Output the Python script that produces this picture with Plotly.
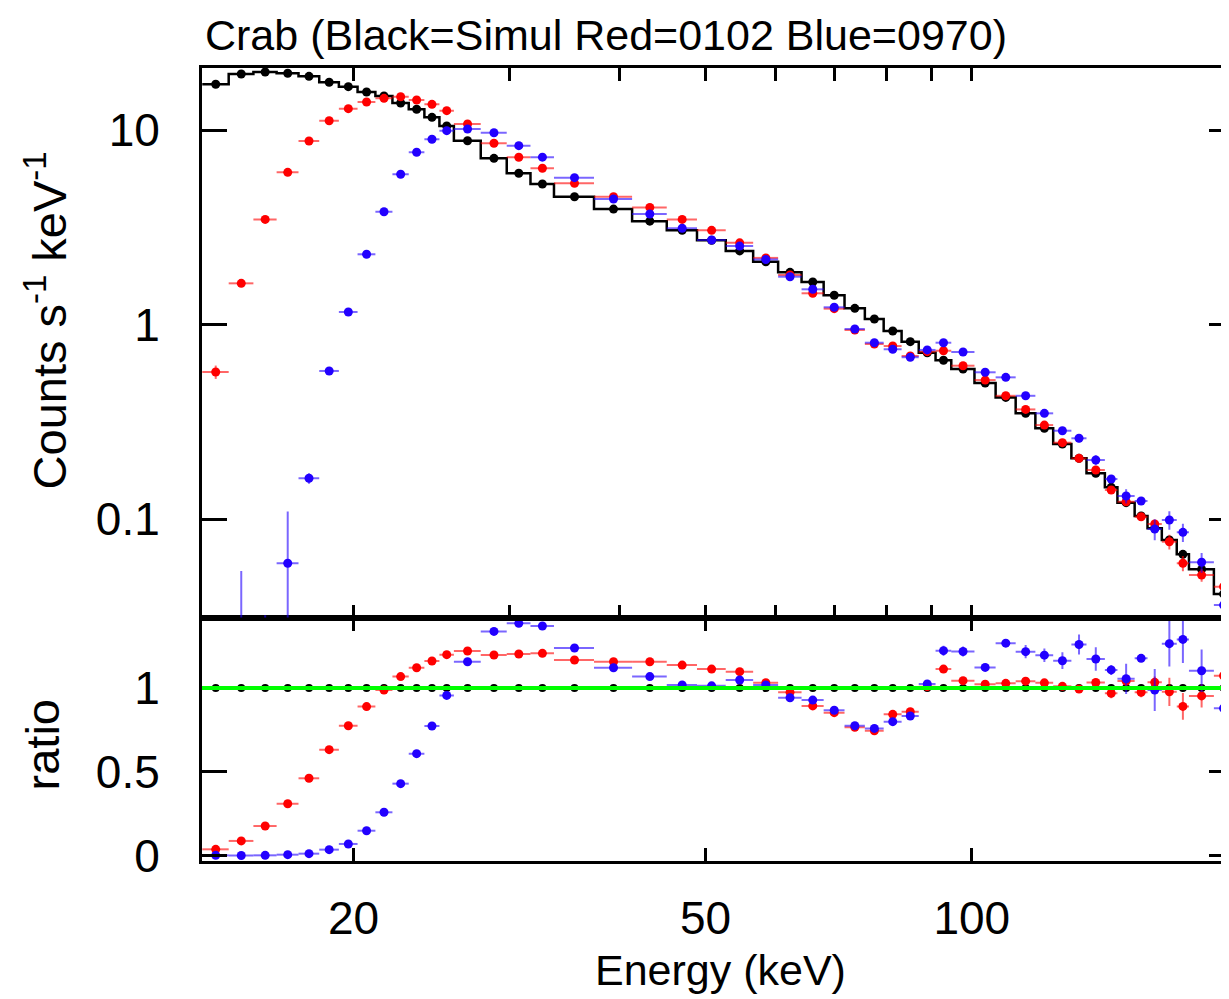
import numpy as np
import plotly.graph_objects as go

# ---------------- data ----------------
# energy bin edges (keV)
edges = [13.49, 14.45, 15.41, 16.37, 17.33, 18.29, 19.25, 20.21, 21.17, 22.13,
         23.09, 24.05, 25.01, 25.97, 27.85, 29.8, 31.7, 33.7, 37.4, 41.3,
         45.2, 48.9, 52.7, 56.6, 60.4, 64.2, 68.0, 71.8, 75.7, 79.5,
         83.3, 87.1, 91.0, 94.8, 100.7, 106.4, 112.1, 118.0, 123.6, 129.6,
         134.8, 141.4, 146.1, 152.8, 158.0, 164.0, 170.5, 176.0, 187.8, 197.4]

# counts s^-1 keV^-1
simul = [17.18, 19.41, 19.87, 19.57, 18.88, 17.59, 16.70, 15.68, 14.96, 13.77,
         12.78, 11.62, 10.49, 8.81, 7.15, 5.99, 5.28, 4.54, 3.92, 3.40,
         3.05, 2.71, 2.39, 2.10, 1.855, 1.654, 1.413, 1.211, 1.067, 0.926,
         0.816, 0.716, 0.655, 0.590, 0.500, 0.422, 0.3494, 0.2926, 0.2429, 0.2051,
         0.1718, 0.1455, 0.1213, 0.1036, 0.0896, 0.078, 0.0658, 0.0551, 0.0412]
obs0102 = [0.570, 1.628, 3.47, 6.06, 8.78, 11.16, 12.87, 13.93, 14.55, 14.83,
           14.27, 13.55, 12.57, 10.73, 8.55, 7.24, 6.36, 5.32, 4.54, 4.00,
           3.47, 3.05, 2.63, 2.20, 1.797, 1.447, 1.206, 0.937, 0.794, 0.775,
           0.689, 0.725, 0.733, 0.614, 0.518, 0.430, 0.366, 0.304, 0.2468, 0.2051,
           0.1786, 0.1410, 0.1227, 0.1027, 0.0942, 0.0764, 0.0592, 0.0515, 0.0449]
obs0102_err = [0.045, 0.03, 0.04, 0.05, 0.05, 0.05, 0.05, 0.05, 0.05, 0.05,
               0.05, 0.05, 0.05, 0.04, 0.04, 0.04, 0.04, 0.04, 0.04, 0.04,
               0.02, 0.02, 0.02, 0.02, 0.02, 0.02, 0.02, 0.02, 0.02, 0.02,
               0.005, 0.005, 0.005, 0.005, 0.005, 0.005, 0.005, 0.005, 0.005, 0.005,
               0.0034, 0.0044, 0.0036, 0.0031, 0.0031, 0.0066, 0.0053, 0.0039, 0.0041]
obs0970 = [0.01, 0.005, 0.005, 0.0592, 0.162, 0.577, 1.160, 2.296, 3.80, 5.92,
           7.68, 8.96, 9.92, 10.12, 9.68, 8.31, 7.25, 5.69, 4.42, 3.70,
           3.125, 2.72, 2.53, 2.16, 1.761, 1.517, 1.226, 0.948, 0.806, 0.746,
           0.679, 0.740, 0.806, 0.722, 0.568, 0.535, 0.430, 0.3494, 0.2844, 0.260,
           0.201, 0.1606, 0.1313, 0.1238, 0.0888, 0.0988, 0.0854, 0.0599, 0.0361]
obs0970_err = [0.01, 0.049, 0.027, 0.05, 0.01, 0.01, 0.02, 0.03, 0.04, 0.05,
               0.05, 0.05, 0.05, 0.05, 0.05, 0.04, 0.04, 0.04, 0.03, 0.03,
               0.02, 0.02, 0.02, 0.02, 0.02, 0.02, 0.01, 0.01, 0.01, 0.01,
               0.01, 0.01, 0.02, 0.018, 0.01, 0.004, 0.014, 0.012, 0.012, 0.012,
               0.012, 0.0044, 0.011, 0.002, 0.011, 0.0107, 0.0092, 0.007, 0.009]

# data / model ratios
ratio_simul = [1.0] * 49
ratio_0102 = [0.037, 0.087, 0.176, 0.309, 0.461, 0.632, 0.775, 0.889, 0.988, 1.068,
              1.121, 1.161, 1.199, 1.221, 1.197, 1.203, 1.207, 1.167, 1.157, 1.157,
              1.137, 1.113, 1.0975, 1.032, 0.974, 0.893, 0.853, 0.765, 0.745, 0.843,
              0.859, 1.008, 1.113, 1.044, 1.023, 1.028, 1.041, 1.031, 1.01, 0.994,
              1.033, 0.969, 1.042, 0.975, 1.034, 0.977, 0.89, 0.953, 1.073]
ratio_0102_err = [0.004] * 40 + [0.02, 0.03, 0.03, 0.03, 0.035, 0.085, 0.08, 0.07, 0.1]
ratio_0970 = [0.001, 0.0, 0.001, 0.005, 0.011, 0.035, 0.069, 0.148, 0.258, 0.429,
              0.608, 0.773, 0.956, 1.157, 1.338, 1.386, 1.37, 1.239, 1.121, 1.068,
              1.018, 1.013, 1.048, 1.018, 0.942, 0.928, 0.867, 0.775, 0.759, 0.799,
              0.833, 1.024, 1.223, 1.218, 1.123, 1.268, 1.217, 1.196, 1.163, 1.26,
              1.173, 1.108, 1.055, 1.177, 0.988, 1.265, 1.29, 1.103, 0.879]
ratio_0970_err = [0.004] * 32 + [0.03, 0.03, 0.02, 0.01, 0.04, 0.04, 0.05, 0.06,
                                 0.07, 0.03, 0.09, 0.02, 0.125, 0.137, 0.14, 0.127, 0.2]

# tick labels
x_tick_values = [20, 50, 100]
x_tick_labels = ["20", "50", "100"]
x_minor_values = [30, 40, 60, 70, 80, 90]
ratio_tick_values = [0, 0.5, 1]
ratio_tick_labels = ["0", "0.5", "1"]
ratio_minor_values = [0.1, 0.2, 0.3, 0.4, 0.6, 0.7, 0.8, 0.9, 1.1, 1.2, 1.3, 1.4]
counts_tick_values = [0.1, 1, 10]
counts_tick_labels = ["0.1", "1", "10"]
counts_minor_values = [0.04, 0.05, 0.06, 0.07, 0.08, 0.09, 0.2, 0.3, 0.4, 0.5, 0.6,
                       0.7, 0.8, 0.9, 2, 3, 4, 5, 6, 7, 8, 9, 20]

# ---------------- derived geometry ----------------
e = np.array(edges)
centers = (e[:-1] + e[1:]) / 2
halfw = (e[1:] - e[:-1]) / 2

# The page body has an 8px margin; figure coordinates = screen - 8.
OFF = 8
PLOT_L, PLOT_T, PLOT_B = 202, 68, 861          # screen pixels
PLOT_R = 1229 + OFF                            # plot area runs just past the window edge
XR = [np.log10(13.48), np.log10(197.9)]
YR_TOP = [-1.5064, 1.3188]
YR_BOT = [-0.0328, 1.421]
SPLIT = (PLOT_B - 617.5) / (PLOT_B - PLOT_T)

RED = "#ff0000"
BLUE = "#2200ff"
RED_E = "rgba(255,0,0,0.6)"
BLUE_E = "rgba(34,0,255,0.6)"
FONT = "Liberation Sans, Arial, Helvetica, sans-serif"
FS = 43        # title / x title
FS_TICK = 46   # tick labels
FS_YT = 47     # y titles

fig = go.Figure()

# ---------------- top panel ----------------
fig.add_trace(go.Scatter(x=centers, y=simul, mode="markers", xaxis="x2", yaxis="y2",
                         marker=dict(color="black", size=9), showlegend=False))
fig.add_trace(go.Scatter(x=list(e[:-1]) + [e[-1]], y=simul + [simul[-1]], mode="lines",
                         line=dict(color="black", width=2.5, shape="hv"),
                         xaxis="x2", yaxis="y2", showlegend=False))
fig.add_trace(go.Scatter(x=centers, y=obs0102, mode="markers", xaxis="x2", yaxis="y2",
                         marker=dict(color=RED, size=9),
                         error_x=dict(type="data", array=halfw, color=RED_E, thickness=2, width=0),
                         error_y=dict(type="data", array=obs0102_err, color=RED_E, thickness=2, width=0),
                         showlegend=False))
fig.add_trace(go.Scatter(x=centers, y=obs0970, mode="markers", xaxis="x2", yaxis="y2",
                         marker=dict(color=BLUE, size=9),
                         error_x=dict(type="data", array=halfw, color=BLUE_E, thickness=2, width=0),
                         error_y=dict(type="data", array=obs0970_err, color=BLUE_E, thickness=2, width=0),
                         showlegend=False))

# ---------------- ratio panel ----------------
fig.add_trace(go.Scatter(x=centers, y=ratio_simul, mode="markers", xaxis="x", yaxis="y",
                         marker=dict(color="black", size=8), showlegend=False))
fig.add_trace(go.Scatter(x=centers, y=ratio_0102, mode="markers", xaxis="x", yaxis="y",
                         marker=dict(color=RED, size=9),
                         error_x=dict(type="data", array=halfw, color=RED_E, thickness=2, width=0),
                         error_y=dict(type="data", array=ratio_0102_err, color=RED_E, thickness=2, width=0),
                         showlegend=False))
fig.add_trace(go.Scatter(x=centers, y=ratio_0970, mode="markers", xaxis="x", yaxis="y",
                         marker=dict(color=BLUE, size=9),
                         error_x=dict(type="data", array=halfw, color=BLUE_E, thickness=2, width=0),
                         error_y=dict(type="data", array=ratio_0970_err, color=BLUE_E, thickness=2, width=0),
                         showlegend=False))

fig.add_shape(type="line", xref="x domain", yref="y", x0=0, x1=1, y0=1, y1=1,
              line=dict(color="#00ff00", width=4), layer="above")

# ---------------- axes ----------------
tickfont = dict(family=FONT, size=FS_TICK, color="black")


def axis(**kw):
    base = dict(showgrid=False, zeroline=False, ticks="inside", tickcolor="black",
                tickwidth=3, linecolor="black", linewidth=3, showline=True,
                mirror="ticks", showticklabels=False)
    base.update(kw)
    return base


W, H = 1229, 999
layout = dict(
    width=W, height=H,
    margin=dict(l=PLOT_L - OFF, r=W - (PLOT_R - OFF), t=PLOT_T - OFF, b=H - (PLOT_B - OFF)),
    paper_bgcolor="white", plot_bgcolor="white",
    font=dict(family=FONT, size=FS, color="black"),
    # ratio panel x axes
    xaxis=axis(type="log", range=XR, domain=[0, 1], anchor="y",
               tickvals=x_tick_values, ticktext=x_tick_labels, ticklen=13,
               showticklabels=True, tickfont=tickfont, ticklabelstandoff=15),
    xaxis3=axis(type="log", range=XR, overlaying="x", anchor="y",
                tickvals=x_minor_values, ticklen=13),
    xaxis5=axis(type="log", range=XR, overlaying="x", anchor="y",
                tickvals=[100], ticklen=25),
    # counts panel x axes
    xaxis2=axis(type="log", range=XR, domain=[0, 1], anchor="y2",
                tickvals=x_tick_values + x_minor_values, ticklen=13),
    xaxis4=axis(type="log", range=XR, overlaying="x2", anchor="y2",
                tickvals=[100], ticklen=25),
    # ratio panel y axes
    yaxis=axis(range=YR_BOT, domain=[0, SPLIT], anchor="x",
               tickvals=ratio_tick_values, ticktext=ratio_tick_labels, ticklen=25,
               showticklabels=True, tickfont=tickfont, ticklabelstandoff=30),
    yaxis3=axis(range=YR_BOT, overlaying="y", anchor="x",
                tickvals=ratio_minor_values, ticklen=13),
    # counts panel y axes
    yaxis2=axis(type="log", range=YR_TOP, domain=[SPLIT, 1], anchor="x2",
                tickvals=counts_tick_values, ticktext=counts_tick_labels, ticklen=25,
                showticklabels=True, tickfont=tickfont, ticklabelstandoff=30),
    yaxis4=axis(type="log", range=YR_TOP, overlaying="y2", anchor="x2",
                tickvals=counts_minor_values, ticklen=13),
)
fig.update_layout(**layout)


def px(xs):
    return (xs - PLOT_L) / (PLOT_R - PLOT_L)


def py(ys):
    return (PLOT_B - ys) / (PLOT_B - PLOT_T)


fig.add_annotation(text="Crab (Black=Simul Red=0102 Blue=0970)", xref="paper", yref="paper",
                   x=px(203), y=py(35), xanchor="left", yanchor="middle", showarrow=False,
                   font=dict(family=FONT, size=FS, color="black"))
fig.add_annotation(text="Energy (keV)", xref="paper", yref="paper",
                   x=px(722), y=py(970), xanchor="center", yanchor="middle", showarrow=False,
                   font=dict(family=FONT, size=FS, color="black"))
fig.add_annotation(text="Counts s<sup>-1</sup> keV<sup>-1</sup>", xref="paper", yref="paper",
                   x=px(46), y=py(320), xanchor="center", yanchor="middle", showarrow=False,
                   textangle=-90, font=dict(family=FONT, size=FS_YT, color="black"))
fig.add_annotation(text="ratio", xref="paper", yref="paper",
                   x=px(42), y=py(745), xanchor="center", yanchor="middle", showarrow=False,
                   textangle=-90, font=dict(family=FONT, size=FS_YT, color="black"))

fig.write_html("out.html")
